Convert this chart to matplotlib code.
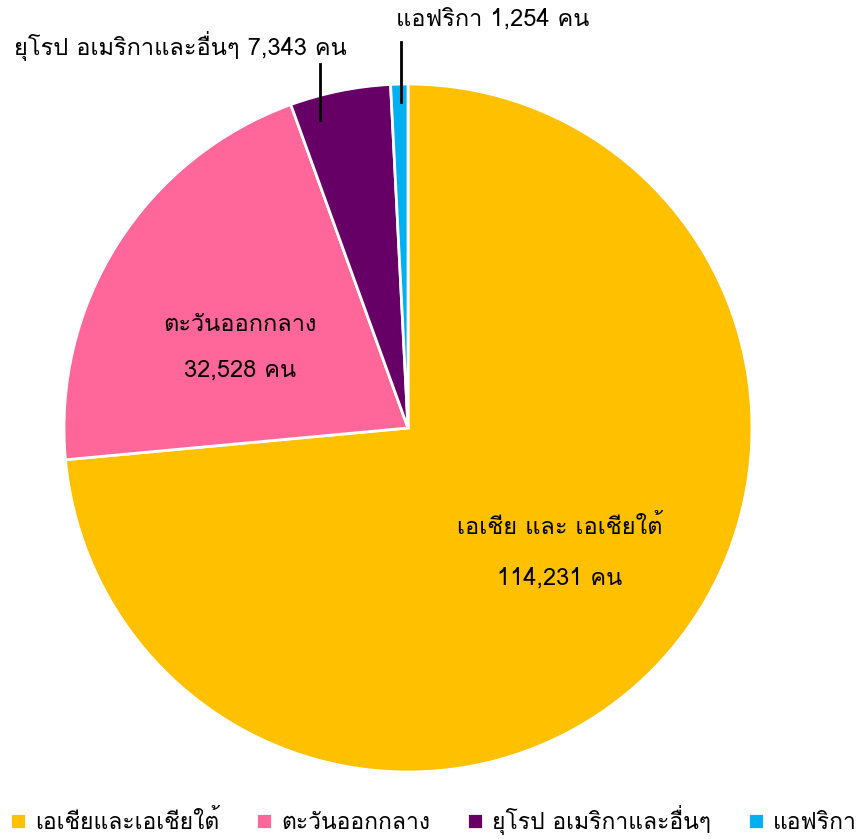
import matplotlib
matplotlib.use("Agg")
import matplotlib.pyplot as plt

plt.rcParams['font.family'] = ['Loma', 'DejaVu Sans']

regions = ['เอเชียและเอเชียใต้', 'ตะวันออกกลาง', 'ยุโรป อเมริกาและอื่นๆ', 'แอฟริกา']
counts = [114231, 32528, 7343, 1254]
colors = ['#FFC000', '#FF6699', '#660066', '#00B0F0']

W, H = 867, 839
cx, cy, r = 408, 428, 344   # pie centre / radius in pixels


def px(x, y):
    """pixel position (from top-left) -> data coords of the pie axes"""
    return (x - cx) / r, (cy - y) / r


fig = plt.figure(figsize=(W / 100, H / 100), dpi=100)
ax = fig.add_axes([(cx - r) / W, (H - cy - r) / H, 2 * r / W, 2 * r / H])
wedges, _ = ax.pie(counts, colors=colors, startangle=90, counterclock=False,
                   radius=1, wedgeprops=dict(edgecolor='white', linewidth=2))
ax.set_xlim(-1, 1)
ax.set_ylim(-1, 1)
ax.axis('off')

fs = 17
# labels inside
ax.text(*px(560, 527), 'เอเชีย และ เอเชียใต้', ha='center', va='center', fontsize=fs)
ax.text(*px(560, 578), '{:,} คน'.format(counts[0]), ha='center', va='center', fontsize=fs)
ax.text(*px(240, 325), 'ตะวันออกกลาง', ha='center', va='center', fontsize=fs)
ax.text(*px(240, 370), '{:,} คน'.format(counts[1]), ha='center', va='center', fontsize=fs)

# labels outside with leader lines
ax.text(*px(180, 46), 'ยุโรป อเมริกาและอื่นๆ {:,} คน'.format(counts[2]),
        ha='center', va='center', fontsize=fs)
x0, y0 = px(320, 64)
x1, y1 = px(320, 120)
ax.plot([x0, x1], [y0, y1], color='black', lw=2, clip_on=False)
ax.text(*px(493, 19), 'แอฟริกา {:,} คน'.format(counts[3]),
        ha='center', va='center', fontsize=fs)
x0, y0 = px(401, 42)
x1, y1 = px(401, 102)
ax.plot([x0, x1], [y0, y1], color='black', lw=2, clip_on=False)

# legend kept inside the figure so that no entry is clipped
fig.legend(wedges, regions, loc='center', bbox_to_anchor=(0.5, 1 - 820 / H),
           ncol=4, frameon=False, fontsize=16.5, handlelength=0.7, handleheight=0.7,
           handletextpad=0.4, columnspacing=1.6, borderaxespad=0, borderpad=0.1)

fig.savefig('out.png', dpi=100)
